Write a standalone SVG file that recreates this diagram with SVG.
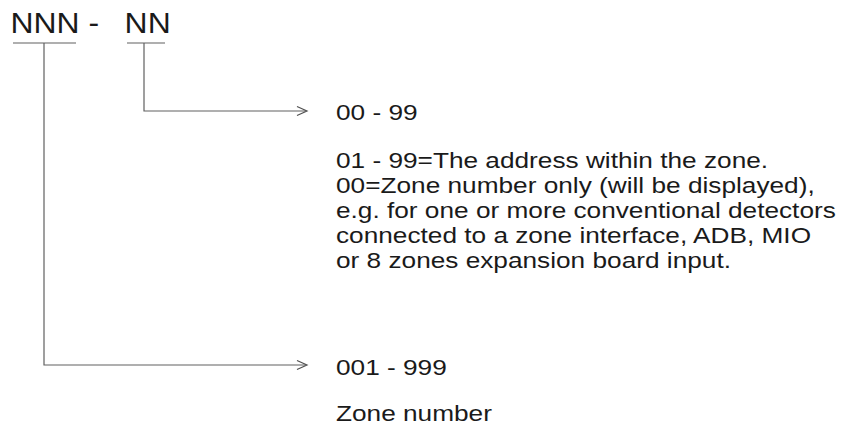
<svg xmlns="http://www.w3.org/2000/svg" width="852" height="426" viewBox="0 0 852 426">
<style>
.ln{fill:none;stroke:#606060;stroke-width:1.2}
.ah{fill:none;stroke:#505050;stroke-width:1.2}
.hd{font-family:"Liberation Sans",Arial,sans-serif;font-size:29px;fill:#1a1a1a}
.tx{font-family:"Liberation Sans",Arial,sans-serif;font-size:21.5px;fill:#1a1a1a}
</style>
<rect width="852" height="426" fill="#fff"/>
<g id="format">
<g transform="scale(1.1,1)">
<text class="hd" x="9.6" y="33">NNN -</text>
<text class="hd" x="113.3" y="33">NN</text>
</g>
<line class="ln" x1="13" y1="43" x2="76" y2="43"/>
<line class="ln" x1="127" y1="43" x2="165" y2="43"/>
</g>
<g id="connectors">
<polyline class="ln" points="144,43 144,111 306,111"/>
<polyline class="ah" points="297,106.5 307,111 297,115.5"/>
<polyline class="ln" points="44,43 44,365 306,365"/>
<polyline class="ah" points="297,360.5 307,365 297,369.5"/>
</g>
<g id="address" transform="scale(1.22,1)">
<text class="tx" x="275.4" y="120">00 - 99</text>
<text class="tx" x="275.4" y="168">01 - 99=The address within the zone.</text>
<text class="tx" x="275.4" y="193">00=Zone number only (will be displayed),</text>
<text class="tx" x="275.4" y="218">e.g. for one or more conventional detectors</text>
<text class="tx" x="275.4" y="243">connected to a zone interface, ADB, MIO</text>
<text class="tx" x="275.4" y="268">or 8 zones expansion board input.</text>
</g>
<g id="zone" transform="scale(1.22,1)">
<text class="tx" x="275.4" y="375">001 - 999</text>
<text class="tx" x="275.4" y="421">Zone number</text>
</g>
</svg>
